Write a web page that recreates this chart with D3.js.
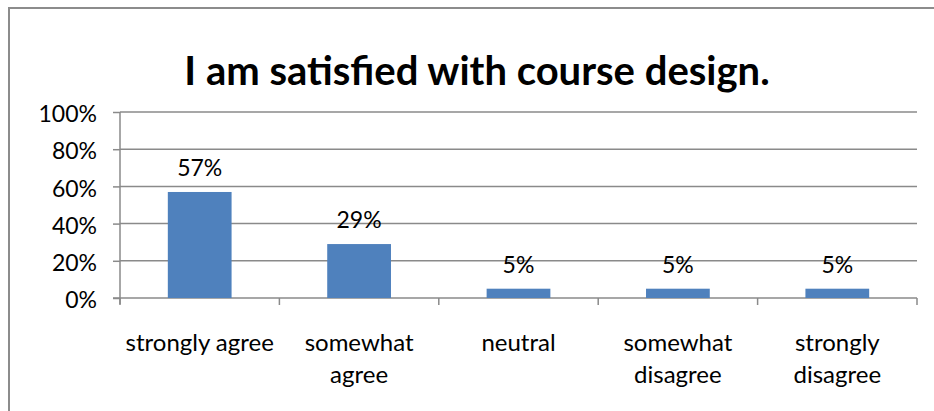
<!DOCTYPE html>
<html>
<head>
<meta charset="utf-8">
<script src="https://cdn.jsdelivr.net/npm/d3@7"></script>
<style>
  html, body { margin: 0; padding: 0; background: #fff; }
  svg { display: block; }
  text { font-family: Lato, "Open Sans", sans-serif; fill: #000; }
</style>
</head>
<body>
<svg id="chart" width="934" height="411"></svg>
<script>
const title = "I am satisfied with course design.";
const categories = ["strongly agree", "somewhat agree", "neutral", "somewhat disagree", "strongly disagree"];
const categoryLines = [["strongly agree"], ["somewhat", "agree"], ["neutral"], ["somewhat", "disagree"], ["strongly", "disagree"]];
const values = [0.57, 0.29, 0.05, 0.05, 0.05];
const valueLabels = ["57%", "29%", "5%", "5%", "5%"];
const yTicks = [0, 0.2, 0.4, 0.6, 0.8, 1.0];
const yTickLabels = ["0%", "20%", "40%", "60%", "80%", "100%"];

const svg = d3.select("#chart");
const gridColor = "#8a8a8a";

// outer frame (left and top)
svg.append("path")
  .attr("d", "M9,411V8H934")
  .attr("fill", "none")
  .attr("stroke", "#8c8c8c")
  .attr("stroke-width", 2);

// title
svg.append("text")
  .attr("x", 477).attr("y", 85)
  .attr("text-anchor", "middle")
  .attr("font-weight", "bold")
  .attr("font-size", 40)
  .text(title);

const x = d3.scaleBand().domain(categories).range([120, 917]).paddingInner(0.6).paddingOuter(0.3);
const y = d3.scaleLinear().domain([0, 1]).range([298, 112]);

// gridlines
svg.append("g").selectAll("line").data(yTicks.slice(1)).join("line")
  .attr("x1", 120).attr("x2", 917)
  .attr("y1", d => y(d)).attr("y2", d => y(d))
  .attr("stroke", gridColor).attr("stroke-width", 1.5);

// y axis
const yAxis = d3.axisLeft(y).tickValues(yTicks).tickFormat((d, i) => yTickLabels[i]).tickSize(7).tickPadding(16);
const gy = svg.append("g").attr("transform", "translate(120,0)").call(yAxis);
gy.select(".domain").remove();
gy.selectAll(".tick line").attr("stroke", gridColor).attr("stroke-width", 1.5);
gy.selectAll(".tick text").attr("font-size", 23).attr("font-family", "Lato").attr("fill", "#000").attr("dy", "0.42em");
svg.append("line").attr("x1", 120).attr("x2", 120).attr("y1", y(1)).attr("y2", 304)
  .attr("stroke", gridColor).attr("stroke-width", 1.5);

// x axis baseline and boundary ticks
svg.append("line").attr("x1", 113).attr("x2", 917).attr("y1", y(0)).attr("y2", y(0))
  .attr("stroke", gridColor).attr("stroke-width", 1.5);
const step = x.step();
const bounds = d3.range(categories.length + 1).map(i => 120 + i * step);
svg.append("g").selectAll("line").data(bounds).join("line")
  .attr("x1", d => d).attr("x2", d => d)
  .attr("y1", y(0)).attr("y2", y(0) + 7)
  .attr("stroke", gridColor).attr("stroke-width", 1.5);

// bars
svg.append("g").selectAll("rect").data(values).join("rect")
  .attr("x", (d, i) => x(categories[i]))
  .attr("y", d => y(d))
  .attr("width", x.bandwidth())
  .attr("height", d => y(0) - y(d))
  .attr("fill", "#4f81bd");

// data labels
svg.append("g").selectAll("text").data(values).join("text")
  .attr("x", (d, i) => x(categories[i]) + x.bandwidth() / 2)
  .attr("y", d => y(d) - 16)
  .attr("text-anchor", "middle")
  .attr("font-size", 23)
  .text((d, i) => valueLabels[i]);

// category labels
const cl = svg.append("g").selectAll("text").data(categories).join("text")
  .attr("text-anchor", "middle")
  .attr("font-size", 24)
  .attr("x", d => x(d) + x.bandwidth() / 2)
  .attr("y", 351);
cl.selectAll("tspan").data((d, i) => categoryLines[i]).join("tspan")
  .attr("x", function() { return this.parentNode.getAttribute("x"); })
  .attr("dy", (d, j) => j === 0 ? 0 : 32)
  .text(d => d);
</script>
</body>
</html>
